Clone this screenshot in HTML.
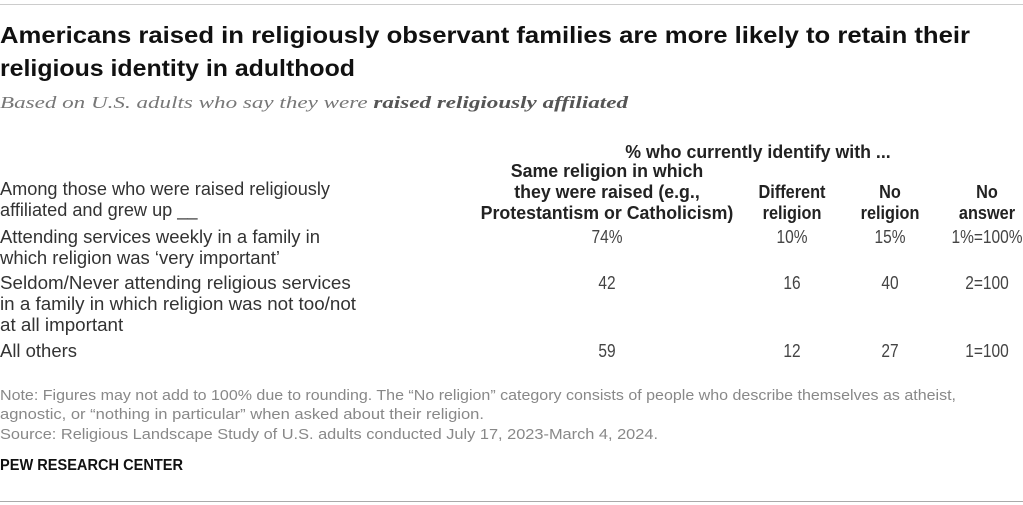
<!DOCTYPE html>
<html><head><meta charset="utf-8"><style>
body{margin:0;width:1023px;height:505px;background:#fff;position:relative;overflow:hidden;font-family:"Liberation Sans",sans-serif;color:#222}
.a{position:absolute;white-space:nowrap;transform-origin:0 0}
.c{position:absolute;white-space:nowrap;text-align:center;transform-origin:50% 0}
.t{font-weight:bold;font-size:23px;color:#111}
.lb{font-size:18px;color:#333}
.h{font-size:18.5px;font-weight:bold;color:#222}
.v{font-size:18px;color:#444}
.n{font-size:15px;color:#888}
</style></head><body>
<div style="position:absolute;left:0;top:4px;width:1023px;height:1px;background:#ccc"></div>
<div class="a t" data-fit="970" style="left:0;top:22px">Americans raised in religiously observant families are more likely to retain their</div>
<div class="a t" data-fit="355" style="left:0;top:55px">religious identity in adulthood</div>
<div class="a" data-fit="628" style="left:0;top:93px;font-family:'Liberation Serif',serif;font-style:italic;font-size:17px;color:#777">Based on U.S. adults who say they were <b style="color:#555">raised religiously affiliated</b></div>

<div class="c h" data-sx="0.96" style="left:600px;top:141px;width:316px">% who currently identify with ...</div>
<div class="c h" data-sx="0.96" style="left:457px;top:160px;width:300px;line-height:21px">Same religion in which<br>they were raised (e.g.,<br>Protestantism or Catholicism)</div>
<div class="c h" data-sx="0.88" style="left:742px;top:181px;width:100px;line-height:21px">Different<br>religion</div>
<div class="c h" data-sx="0.88" style="left:850px;top:181px;width:80px;line-height:21px">No<br>religion</div>
<div class="c h" data-sx="0.88" style="left:947px;top:181px;width:80px;line-height:21px">No<br>answer</div>

<div class="a lb" data-fit="330" style="left:0;top:179px;line-height:21px">Among those who were raised religiously<br>affiliated and grew up __</div>
<div class="a lb" data-fit="320" style="left:0;top:227px;line-height:21px">Attending services weekly in a family in<br>which religion was ‘very important’</div>
<div class="a lb" data-fit="356" style="left:0;top:273px;line-height:21px">Seldom/Never attending religious services<br>in a family in which religion was not too/not<br>at all important</div>
<div class="a lb" data-fit="77" style="left:0;top:341px">All others</div>

<div id="vals"></div>

<div class="a n" data-fit="956" style="left:0;top:387px">Note: Figures may not add to 100% due to rounding. The “No religion” category consists of people who describe themselves as atheist,</div>
<div class="a n" data-fit="484" style="left:0;top:406px">agnostic, or “nothing in particular” when asked about their religion.</div>
<div class="a n" data-fit="658" style="left:0;top:426px">Source: Religious Landscape Study of U.S. adults conducted July 17, 2023-March 4, 2024.</div>
<div class="a" data-fit="183" style="left:0;top:457px;font-size:16px;font-weight:bold;color:#111">PEW RESEARCH CENTER</div>
<div style="position:absolute;left:0;top:501px;width:1023px;height:1px;background:#aaa"></div>

<script>
const rows=["weekly","seldom","all-others"];
const same=["74%","42","59"];
const diff=["10%","16","12"];
const noRel=["15%","40","27"];
const noAns=["1%=100%","2=100","1=100"];
const rowTops=[227,273,341];
const colCenters=[607,792,890,987];
const cols=[same,diff,noRel,noAns];
const colNames=["same-religion","different-religion","no-religion","no-answer"];
const host=document.getElementById('vals');
cols.forEach((col,ci)=>{col.forEach((v,ri)=>{
  const el=document.createElement('div');
  el.className='c v';
  el.style.left=(colCenters[ci]-50)+'px';el.style.width='100px';
  el.style.top=rowTops[ri]+'px';
  el.style.transform='scaleX(0.86)';
  el.textContent=v;
  
  
  host.appendChild(el);
});});
document.querySelectorAll('[data-fit]').forEach(e=>{
  const w=e.getBoundingClientRect().width;const t=+e.dataset.fit;
  e.style.transform='scaleX('+(t/w)+')';
});
document.querySelectorAll('[data-sx]').forEach(e=>{
  e.style.transform='scaleX('+e.dataset.sx+')';
});
</script>
</body></html>
